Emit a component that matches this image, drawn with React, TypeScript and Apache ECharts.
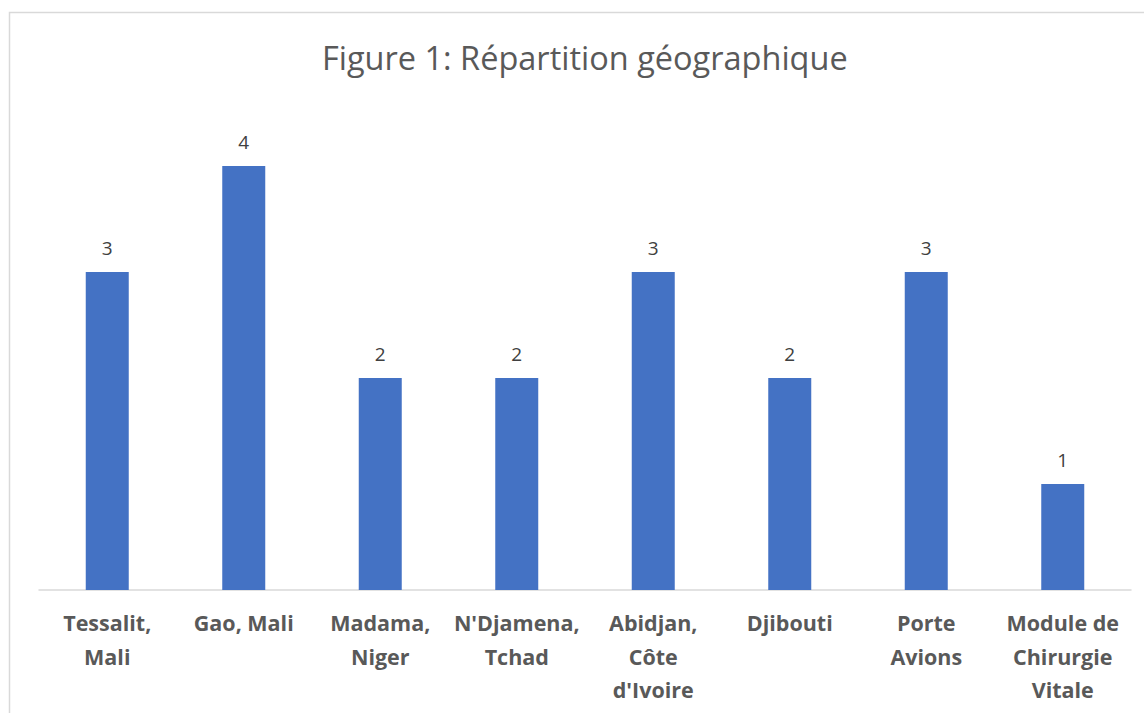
import React, { useEffect, useRef } from "react";
import * as echarts from "echarts";

const titleText = "Figure 1: Répartition géographique";
const categories = [
  "Tessalit,\nMali",
  "Gao, Mali",
  "Madama,\nNiger",
  "N'Djamena,\nTchad",
  "Abidjan,\nCôte\nd'Ivoire",
  "Djibouti",
  "Porte\nAvions",
  "Module de\nChirurgie\nVitale",
];
const values = [3, 4, 2, 2, 3, 2, 3, 1];

export default function App() {
  const ref = useRef<HTMLDivElement>(null);
  useEffect(() => {
    const chart = echarts.init(ref.current!, null, { renderer: "svg" });
    chart.setOption({
      animation: false,
      backgroundColor: "#ffffff",
      title: {
        text: titleText,
        left: 317,
        top: 36,
        textStyle: {
          fontFamily: "Open Sans",
          fontSize: 32.5,
          fontWeight: "normal",
          color: "#595959",
        },
      },
      graphic: [
        {
          type: "rect",
          shape: { x: 9.5, y: 12.5, width: 1200, height: 800 },
          style: { fill: "none", stroke: "#d9d9d9", lineWidth: 1.5 },
          silent: true,
          z: -1,
        },
      ],
      grid: { left: 39, right: 13, top: 166, bottom: 123 },
      xAxis: {
        type: "category",
        data: categories,
        axisLine: { lineStyle: { color: "#d9d9d9", width: 1.5 } },
        axisTick: { show: false },
        axisLabel: {
          interval: 0,
          margin: 16,
          fontFamily: "Open Sans",
          fontSize: 21.5,
          fontWeight: "bold",
          lineHeight: 33.5,
          color: "#595959",
        },
      },
      yAxis: {
        type: "value",
        min: 0,
        max: 4,
        show: false,
        splitLine: { show: false },
      },
      series: [
        {
          type: "bar",
          data: values,
          barWidth: 43,
          itemStyle: { color: "#4472C4" },
          label: {
            show: true,
            position: "top",
            distance: 15,
            fontFamily: "Open Sans",
            fontSize: 19,
            color: "#404040",
          },
        },
      ],
    });
    return () => chart.dispose();
  }, []);
  return (
    <div
      ref={ref}
      style={{ position: "fixed", left: 0, top: 0, width: 1144, height: 713 }}
    />
  );
}
